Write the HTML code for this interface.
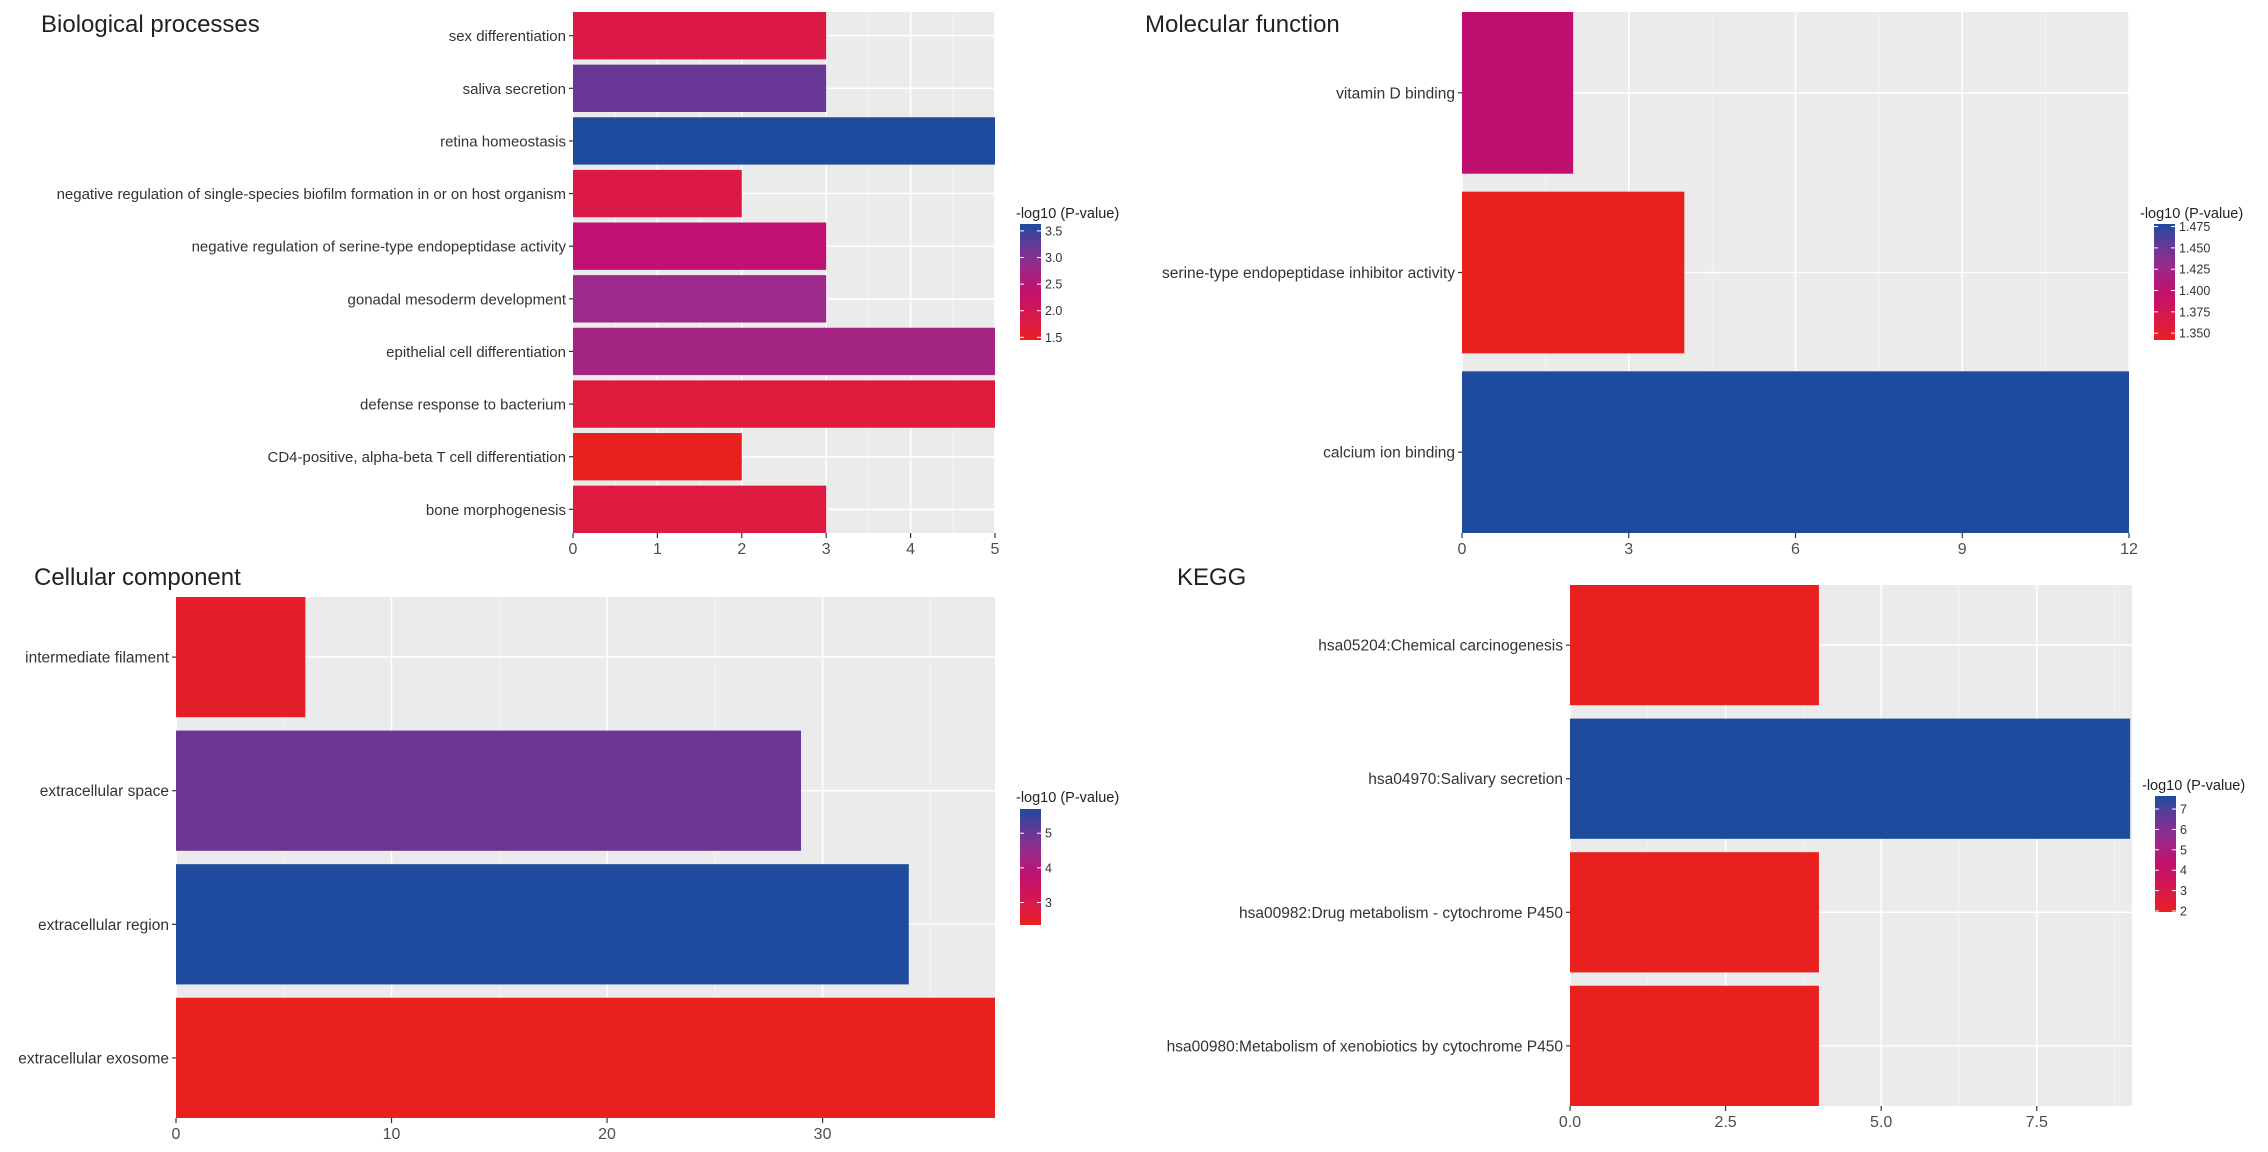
<!DOCTYPE html>
<html><head><meta charset="utf-8">
<style>
html,body{margin:0;padding:0;background:#fff;}
svg{display:block;font-family:"Liberation Sans",Arial,sans-serif;}
</style></head>
<body>
<svg id="chart" width="2268" height="1152" viewBox="0 0 2268 1152" xmlns="http://www.w3.org/2000/svg">
<defs id="defs"></defs>
</svg>
<script>
// ---- Data ----
const bpCategories = ["sex differentiation","saliva secretion","retina homeostasis","negative regulation of single-species biofilm formation in or on host organism","negative regulation of serine-type endopeptidase activity","gonadal mesoderm development","epithelial cell differentiation","defense response to bacterium","CD4-positive, alpha-beta T cell differentiation","bone morphogenesis"];
const bpCounts = [3,3,5,2,3,3,5,5,2,3];
const bpPvals = [1.8,3.2,3.63,1.8,2.4,2.8,2.7,1.7,1.45,1.75];
const bpTicks = [0,1,2,3,4,5];
const bpLegendTicks = [1.5,2.0,2.5,3.0,3.5];

const mfCategories = ["vitamin D binding","serine-type endopeptidase inhibitor activity","calcium ion binding"];
const mfCounts = [2,4,12];
const mfPvals = [1.40,1.342,1.478];
const mfTicks = [0,3,6,9,12];
const mfLegendTicks = [1.350,1.375,1.400,1.425,1.450,1.475];

const ccCategories = ["intermediate filament","extracellular space","extracellular region","extracellular exosome"];
const ccCounts = [6,29,34,38];
const ccPvals = [2.5,5.0,5.7,2.35];
const ccTicks = [0,10,20,30];
const ccLegendTicks = [3,4,5];

const keggCategories = ["hsa05204:Chemical carcinogenesis","hsa04970:Salivary secretion","hsa00982:Drug metabolism - cytochrome P450","hsa00980:Metabolism of xenobiotics by cytochrome P450"];
const keggCounts = [4,9,4,4];
const keggPvals = [1.97,7.64,1.95,1.96];
const keggTicks = [0,2.5,5.0,7.5];
const keggTickLabels = ["0.0","2.5","5.0","7.5"];
const keggLegendTicks = [2,3,4,5,6,7];

// ---- Helpers ----
const NS = "http://www.w3.org/2000/svg";
const svg = document.getElementById("chart");
const defs = document.getElementById("defs");
function mk(tag, attrs, parent){
  const e = document.createElementNS(NS, tag);
  for (const k in attrs) e.setAttribute(k, attrs[k]);
  (parent||svg).appendChild(e);
  return e;
}
const cStops = [[0,[232,33,31]],[0.16,[220,25,70]],[0.43,[191,16,112]],[0.62,[155,42,138]],[0.8,[106,55,149]],[1,[31,75,159]]];
function colorAt(t){
  t = Math.max(0, Math.min(1, t));
  for (let i=1;i<cStops.length;i++){
    if (t <= cStops[i][0]){
      const a=cStops[i-1], b=cStops[i];
      const f=(t-a[0])/(b[0]-a[0]);
      const c=a[1].map((v,j)=>Math.round(v+(b[1][j]-v)*f));
      return "rgb("+c.join(",")+")";
    }
  }
  return "rgb(31,75,159)";
}

function panel(cfg){
  const g = mk("g", {});
  
  
  const n = cfg.cats.length;
  const xs = v => cfg.left + (v - 0) / cfg.xmax * (cfg.right - cfg.left);
  const band = (cfg.bottom - cfg.top) / (n - 0.1);
  const yc = i => cfg.top + (i + 1 - 0.55) * band;
  const bg = mk("rect", {x:cfg.left, y:cfg.top, width:cfg.right-cfg.left, height:cfg.bottom-cfg.top, fill:"#ebebeb"}, g);
  
  
  for (let k=0;k<cfg.ticks.length;k++){
    const step = cfg.ticks.length>1 ? cfg.ticks[1]-cfg.ticks[0] : 1;
    const m = cfg.ticks[k] + step/2;
    if (m < cfg.xmax) mk("line", {x1:xs(m), x2:xs(m), y1:cfg.top, y2:cfg.bottom, stroke:"#f5f5f5", "stroke-width":0.8}, g);
  }
  cfg.ticks.forEach(t => { mk("line", {x1:xs(t), x2:xs(t), y1:cfg.top, y2:cfg.bottom, stroke:"#ffffff", "stroke-width":1.5}, g); });
  cfg.cats.forEach((c,i) => { mk("line", {x1:cfg.left, x2:cfg.right, y1:yc(i), y2:yc(i), stroke:"#ffffff", "stroke-width":1.5}, g); });
  cfg.cats.forEach((c,i) => {
    const t = (cfg.pvals[i] - cfg.pmin) / (cfg.pmax - cfg.pmin);
    const r = mk("rect", {x:xs(0), y:yc(i)-0.45*band, width:xs(cfg.counts[i])-xs(0), height:0.9*band, fill:colorAt(t)}, g);
    
    
    const lab = mk("text", {x:cfg.left-7, y:yc(i)+5.5, "text-anchor":"end", "font-size":cfg.labelSize||15.5, fill:"#333"}, g);
    lab.textContent = c;
    
    
    mk("line", {x1:cfg.left-4, x2:cfg.left, y1:yc(i), y2:yc(i), stroke:"#333", "stroke-width":1.2}, g);
  });
  cfg.ticks.forEach((t,k) => {
    mk("line", {x1:xs(t), x2:xs(t), y1:cfg.bottom, y2:cfg.bottom+5, stroke:"#333", "stroke-width":1.2}, g);
    const tl = mk("text", {x:xs(t), y:cfg.bottom+21, "text-anchor":"middle", "font-size":16, fill:"#4d4d4d"}, g);
    tl.textContent = cfg.tickLabels ? cfg.tickLabels[k] : String(t);
    
    
  });
  const ti = mk("text", {x:cfg.titleX, y:cfg.titleY, "font-size":24, fill:"#222"}, g);
  ti.textContent = cfg.title;
  
  
  const L = cfg.legend;
  const lg = mk("g", {}, g);
  
  
  const lt = mk("text", {x:L.x, y:L.ty, "font-size":14.5, fill:"#222"}, lg);
  lt.textContent = "-log10 (P-value)";
  
  
  const gid = "grad-" + cfg.name;
  const grad = mk("linearGradient", {id:gid, x1:0, y1:1, x2:0, y2:0}, defs);
  for (let s=0;s<=20;s++){ mk("stop", {offset:s/20, "stop-color":colorAt(s/20)}, grad); }
  const cb = mk("rect", {x:L.bx, y:L.top, width:21, height:L.bottom-L.top, fill:"url(#"+gid+")"}, lg);
  
  
  const ly = v => L.bottom - (v - cfg.pmin)/(cfg.pmax - cfg.pmin)*(L.bottom - L.top);
  cfg.legendTicks.forEach(v => {
    mk("line", {x1:L.bx, x2:L.bx+4, y1:ly(v), y2:ly(v), stroke:"#fff", "stroke-width":1}, lg);
    mk("line", {x1:L.bx+17, x2:L.bx+21, y1:ly(v), y2:ly(v), stroke:"#fff", "stroke-width":1}, lg);
    const tx = mk("text", {x:L.bx+25, y:ly(v)+4.5, "font-size":12.5, fill:"#333"}, lg);
    tx.textContent = cfg.legendFmt ? cfg.legendFmt(v) : String(v);
    
    
  });
}

panel({name:"biological-processes", title:"Biological processes", titleX:41, titleY:32,
  cats:bpCategories, counts:bpCounts, pvals:bpPvals, pmin:1.45, pmax:3.63,
  left:573, right:995, top:12, bottom:533, xmax:5, ticks:bpTicks, labelSize:15,
  legendTicks:bpLegendTicks, legendFmt:v=>v.toFixed(1),
  legend:{x:1016, ty:218, bx:1020, top:224, bottom:340}});

panel({name:"molecular-function", title:"Molecular function", titleX:1145, titleY:32,
  cats:mfCategories, counts:mfCounts, pvals:mfPvals, pmin:1.342, pmax:1.478,
  left:1462, right:2129, top:12, bottom:533, xmax:12, ticks:mfTicks,
  legendTicks:mfLegendTicks, legendFmt:v=>v.toFixed(3),
  legend:{x:2140, ty:218, bx:2154, top:224, bottom:340}});

panel({name:"cellular-component", title:"Cellular component", titleX:34, titleY:585,
  cats:ccCategories, counts:ccCounts, pvals:ccPvals, pmin:2.35, pmax:5.7,
  left:176, right:995, top:597, bottom:1118, xmax:38, ticks:ccTicks,
  legendTicks:ccLegendTicks,
  legend:{x:1016, ty:802, bx:1020, top:809, bottom:925}});

panel({name:"kegg", title:"KEGG", titleX:1177, titleY:585,
  cats:keggCategories, counts:keggCounts, pvals:keggPvals, pmin:1.95, pmax:7.64,
  left:1570, right:2132, top:585, bottom:1106, xmax:9.03, ticks:keggTicks, tickLabels:keggTickLabels,
  legendTicks:keggLegendTicks,
  legend:{x:2142, ty:790, bx:2155, top:796, bottom:912}});
</script>
</body></html>
